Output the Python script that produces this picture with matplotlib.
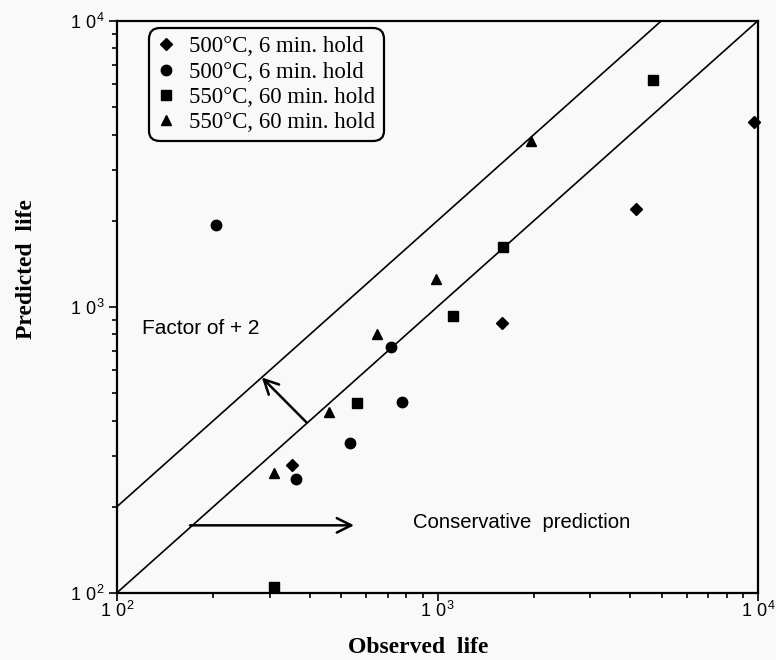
import matplotlib
matplotlib.use("Agg")
import matplotlib.pyplot as plt
from matplotlib.ticker import LogLocator, NullFormatter

# observed life / predicted life
diamond_obs = [351, 1594, 4159, 9717]
diamond_pred = [279, 875, 2196, 4436]
circle_obs = [203, 362, 535, 714, 773]
circle_pred = [1935, 250, 334, 725, 466]
square_obs = [310, 560, 1115, 1598, 4714]
square_pred = [105, 459, 928, 1614, 6203]
triangle_obs = [309, 460, 646, 989, 1953]
triangle_pred = [262, 430, 801, 1247, 3802]

labels = ["500\u00b0C, 6 min. hold", "500\u00b0C, 6 min. hold",
          "550\u00b0C, 60 min. hold", "550\u00b0C, 60 min. hold"]

life_range = [1e2, 1e4]
factor = 2
ticks = [1e2, 1e3, 1e4]
tick_labels = [r"$\mathregular{1\ 0^{2}}$", r"$\mathregular{1\ 0^{3}}$",
               r"$\mathregular{1\ 0^{4}}$"]

bg = "#f9f9f9"
plt.rcParams["font.family"] = ["Liberation Sans", "DejaVu Sans"]
plt.rcParams["mathtext.default"] = "regular"

fig = plt.figure(figsize=(7.76, 6.60), dpi=100, facecolor=bg)
ax = fig.add_axes([117 / 776, 1 - 592.7 / 660, 641 / 776, 572 / 660])
ax.set_facecolor(bg)
ax.set_xscale("log")
ax.set_yscale("log")
ax.set_xlim(life_range)
ax.set_ylim(life_range)

ax.plot(life_range, life_range, color="black", lw=1.2)
ax.plot(life_range, [v * factor for v in life_range], color="black", lw=1.2)

ms = dict(color="black", linestyle="none", clip_on=False)
ax.plot(diamond_obs, diamond_pred, marker="D", markersize=6, label=labels[0], **ms)
ax.plot(circle_obs, circle_pred, marker="o", markersize=7.5, label=labels[1], **ms)
ax.plot(square_obs, square_pred, marker="s", markersize=7, label=labels[2], **ms)
ax.plot(triangle_obs, triangle_pred, marker="^", markersize=7.5, label=labels[3], **ms)

# annotations
ax.annotate("", xy=(283, 566), xytext=(391, 393),
            arrowprops=dict(arrowstyle="->", lw=1.8, color="black",
                            mutation_scale=26, shrinkA=0, shrinkB=0))
ax.annotate("", xy=(549, 172), xytext=(169, 172),
            arrowprops=dict(arrowstyle="->", lw=1.8, color="black",
                            mutation_scale=26, shrinkA=0, shrinkB=0))
ax.text(120, 840, "Factor of + 2", fontsize=15, ha="left", va="center")
ax.text(839, 176, "Conservative  prediction", fontsize=14.6, ha="left", va="center")

for side in ["left", "bottom", "top", "right"]:
    ax.spines[side].set_linewidth(1.6)
ax.set_xticks(ticks, tick_labels)
ax.set_yticks(ticks, tick_labels)
ax.xaxis.set_minor_locator(LogLocator(base=10, subs=range(2, 10)))
ax.yaxis.set_minor_locator(LogLocator(base=10, subs=range(2, 10)))
ax.xaxis.set_minor_formatter(NullFormatter())
ax.yaxis.set_minor_formatter(NullFormatter())
ax.tick_params(which="major", direction="out", length=6, width=1.2, labelsize=13)
ax.tick_params(which="minor", direction="out", length=3.5, width=1.2)
ax.tick_params(axis="x", which="major", pad=0)
ax.tick_params(axis="y", which="major", pad=3)

leg = ax.legend(loc="upper left", bbox_to_anchor=(0.0504, 0.9867), borderaxespad=0,
                prop={"family": "Liberation Serif", "size": 16.5},
                handlelength=0.8, handletextpad=0.6, labelspacing=0.18,
                borderpad=0.35, frameon=True, fancybox=True, framealpha=1,
                facecolor=bg, edgecolor="black", numpoints=1)
leg.get_frame().set_linewidth(1.6)
leg.get_frame().set_boxstyle("round,pad=0,rounding_size=0.45")

fig.text(418 / 776, 1 - 653 / 660, "Observed  life", family="Liberation Serif",
         weight="bold", fontsize=17, ha="center", va="baseline")
fig.text(31.7 / 776, 1 - 269 / 660, "Predicted  life", family="Liberation Serif",
         weight="bold", fontsize=17, ha="center", va="baseline",
         rotation=90, rotation_mode="anchor")

fig.savefig("out.png", dpi=100, facecolor=bg)
